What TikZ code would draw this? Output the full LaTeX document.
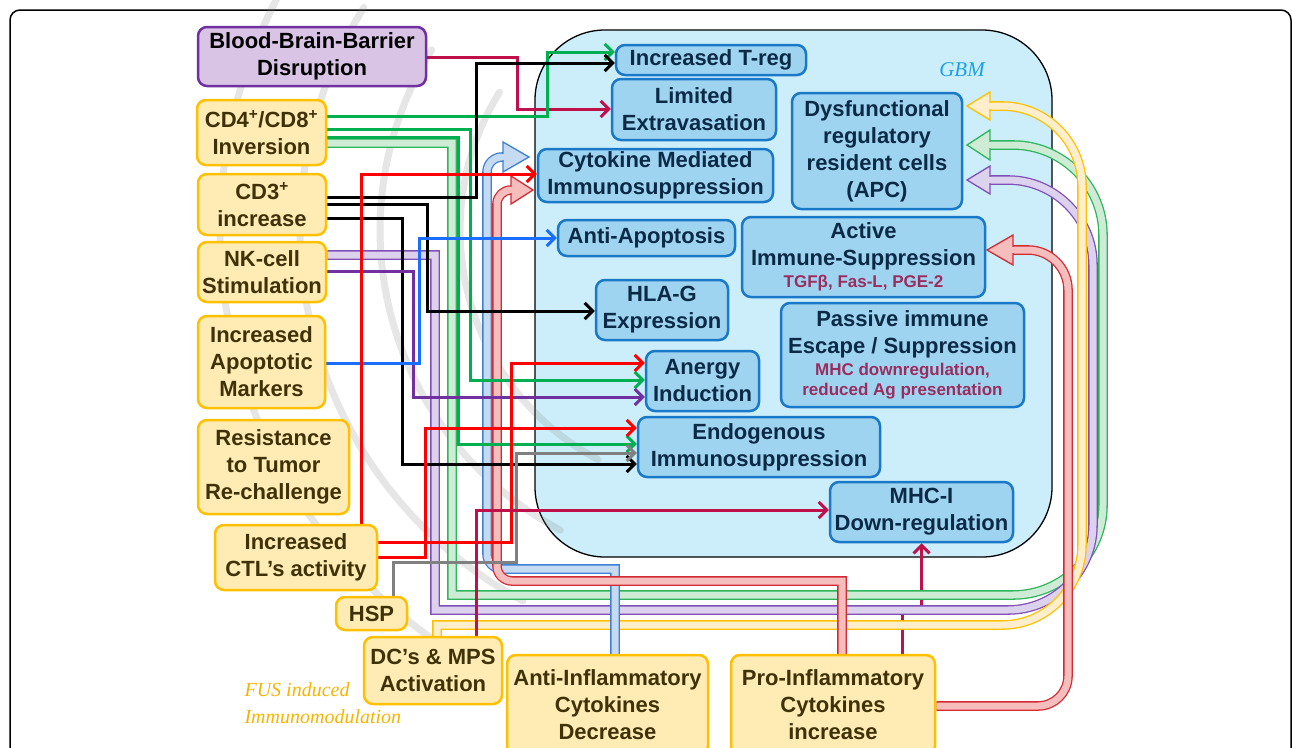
\documentclass[tikz,border=0pt]{standalone}
\usepackage{fontspec}
\setmainfont{Liberation Sans}
\newfontfamily\serifit{Liberation Serif}
\usetikzlibrary{arrows.meta}
\pgfdeclarelayer{bgzero}
\pgfdeclarelayer{conn}
\pgfsetlayers{bgzero,conn,main}
\definecolor{ofill}{HTML}{FFEBB4}
\definecolor{oedge}{HTML}{FFC000}
\definecolor{otext}{HTML}{3F3208}
\definecolor{bfill}{HTML}{9FD4F1}
\definecolor{bedge}{HTML}{1A78C8}
\definecolor{btext}{HTML}{0B2A47}
\definecolor{gbmfill}{HTML}{CCEEFA}
\definecolor{pfill}{HTML}{D9C4E6}
\definecolor{pedge}{HTML}{7030A0}
\definecolor{cgreen}{HTML}{00B050}
\definecolor{cred}{HTML}{FF0000}
\definecolor{ccrim}{HTML}{C0104A}
\definecolor{cgrey}{HTML}{808080}
\definecolor{cblue}{HTML}{1A6EFF}
\definecolor{cpurp}{HTML}{7030A0}
\definecolor{maroontxt}{HTML}{9B2D5E}
\definecolor{gbmtxt}{HTML}{1EA0E6}
\definecolor{fustxt}{HTML}{F5B400}
\definecolor{bbE}{HTML}{3F80D5}\definecolor{bbF}{HTML}{C6DAF2}
\definecolor{rbE}{HTML}{D42A34}\definecolor{rbF}{HTML}{F6BDBD}
\definecolor{gbE}{HTML}{2DB55A}\definecolor{gbF}{HTML}{CDEBD5}
\definecolor{pbE}{HTML}{8050B8}\definecolor{pbF}{HTML}{DDD2EE}
\definecolor{ybE}{HTML}{FFC000}\definecolor{ybF}{HTML}{FFEECC}
\newcommand\smtxt[1]{{\fontsize{17}{20}\selectfont\color{maroontxt}#1}}
\newcommand\myhead[7]{%
  \filldraw[draw=#1, fill=#2, line width=1.3pt, line join=miter] (#3,#4-#6) -- (#5,#4) -- (#3,#4+#6) -- cycle;
  \fill[#2] (#3-1.6,#4-#7) rectangle (#3+1.6,#4+#7);}
\tikzset{
  basebox/.style={rectangle, rounded corners=9pt, line width=2.5pt, align=center, inner sep=0pt,
    font=\bfseries\fontsize{22}{27}\selectfont},
  onode/.style={basebox, draw=oedge, fill=ofill, text=otext},
  bnode/.style={basebox, draw=bedge, fill=bfill, text=btext},
  pnode/.style={basebox, draw=pedge, fill=pfill, text=black},
  thinarrow/.style={line width=3pt, -{Straight Barb[length=8pt,width=16pt]}},
  band/.style 2 args={draw=#1, double=#2, double distance=7pt, line width=1.3pt},
}
\begin{document}
\begin{tikzpicture}[x=1pt,y=-1pt]
\useasboundingbox (0,0) rectangle (1292,747);
\begin{pgfonlayer}{bgzero}
\draw[line width=1.5pt, rounded corners=10pt] (10,10) rectangle (1291,765);
\draw[fill=gbmfill, line width=1.3pt, rounded corners=70pt] (535,30) rectangle (1052,557);
\foreach \r in {260,340,420,500}
  \draw[gray, opacity=0.2, line width=7pt, line cap=round] plot[domain=118:212, samples=40] ({720+\r*cos(\x)},{230+\r*sin(\x)});
\end{pgfonlayer}
\node[font=\serifit\itshape\fontsize{21}{24}\selectfont, text=gbmtxt] (gbm) at (962,70) {GBM};

\node[pnode, minimum width=228pt, minimum height=59pt] (bbb) at (312,56.5) {Blood-Brain-Barrier\\Disruption};
\node[onode, minimum width=129pt, minimum height=65pt] (cd4) at (261.5,132.5) {CD4\textsuperscript{+}/CD8\textsuperscript{+}\\Inversion};
\node[onode, minimum width=128pt, minimum height=61pt] (cd3) at (262,204.5) {CD3\textsuperscript{+}\\increase};
\node[onode, minimum width=128pt, minimum height=60pt] (nk) at (262,272) {NK-cell\\Stimulation};
\node[onode, minimum width=127pt, minimum height=92pt] (apo) at (261.5,362) {Increased\\Apoptotic\\Markers};
\node[onode, minimum width=151pt, minimum height=94pt] (res) at (273.5,467) {Resistance\\to Tumor\\Re-challenge};
\node[onode, minimum width=162pt, minimum height=65pt] (ctl) at (296,557.5) {Increased\\CTL’s activity};
\node[onode, minimum width=71pt, minimum height=33pt] (hsp) at (371.5,613.5) {HSP};
\node[onode, minimum width=138pt, minimum height=67pt] (dc) at (433,670.5) {DC’s \& MPS\\Activation};
\node[onode, minimum width=201pt, minimum height=100pt] (anti) at (607.5,705) {Anti-Inflammatory\\Cytokines\\Decrease};
\node[onode, minimum width=204pt, minimum height=100pt] (pro) at (833,705) {Pro-Inflammatory\\Cytokines\\increase};

\node[bnode, minimum width=190pt, minimum height=30pt] (treg) at (711,60) {Increased T-reg};
\node[bnode, minimum width=164pt, minimum height=61pt] (lim) at (694,109.5) {Limited\\Extravasation};
\node[bnode, minimum width=235pt, minimum height=53pt] (cyt) at (655.5,175.5) {Cytokine Mediated\\Immunosuppression};
\node[bnode, minimum width=170pt, minimum height=116pt] (dys) at (877,151) {Dysfunctional\\regulatory\\resident cells\\(APC)};
\node[bnode, minimum width=177pt, minimum height=36pt] (antiapo) at (646.5,238) {Anti-Apoptosis};
\node[bnode, minimum width=243pt, minimum height=80pt] (act) at (863.5,257) {Active\\Immune-Suppression\\[-5pt]\smtxt{TGFβ, Fas-L, PGE-2}};
\node[bnode, minimum width=132pt, minimum height=60pt] (hla) at (662,310) {HLA-G\\Expression};
\node[bnode, minimum width=243pt, minimum height=104pt] (pas) at (902.5,355) {Passive immune\\Escape / Suppression\\[-5pt]\smtxt{MHC downregulation,}\\[-7pt]\smtxt{reduced Ag presentation}};
\node[bnode, minimum width=113pt, minimum height=60pt] (anergy) at (702.5,381) {Anergy\\Induction};
\node[bnode, minimum width=242pt, minimum height=60pt] (endo) at (759,447) {Endogenous\\Immunosuppression};
\node[bnode, minimum width=183pt, minimum height=60pt] (mhc) at (921.5,512) {MHC-I\\Down-regulation};

\node[font=\serifit\itshape\fontsize{20}{27}\selectfont, text=fustxt, align=left, anchor=west] (fus) at (241,703) {FUS induced\\Immunomodulation};

\begin{pgfonlayer}{conn}
% crimson Pro -> MHC (jog hidden under purple band)
\draw[thinarrow, ccrim] (902,0 |- pro.north) -- (902,610) -| (mhc.south);

% hollow bands
\draw[band={gbE}{gbF}] (cd4.east |- 0,143) -- (452,143) -- (452,595) -- (1013,595) .. controls (1062.5,595) and (1103,554.5) .. (1103,505) -- (1103,235) .. controls (1103,185.5) and (1062.5,145) .. (1013,145) -- (990,145);
\myhead{gbE}{gbF}{990}{145}{967}{15}{3.4}
\draw[band={pbE}{pbF}] (nk.east |- 0,255) -- (435,255) -- (435,610) -- (1008,610) .. controls (1054.75,610) and (1093,571.75) .. (1093,525) -- (1093,265) .. controls (1093,218.25) and (1054.75,180) .. (1008,180) -- (990,180);
\myhead{pbE}{pbF}{990}{180}{967}{14}{3.4}
\draw[band={ybE}{ybF}] (437,0 |- dc.north) -- (437,625) -- (1002,625) .. controls (1046,625) and (1082,589) .. (1082,545) -- (1082,186) .. controls (1082,142) and (1046,106) .. (1002,106) -- (990,106);
\myhead{ybE}{ybF}{990}{106}{967}{14}{3.4}
\draw[band={bbE}{bbF}] (615,0 |- anti.north) -- (615,569) -- (502,569) .. controls (493.75,569) and (487,562.25) .. (487,554) -- (487,172) .. controls (487,163.75) and (493.75,157) .. (502,157) -- (503,157);
\myhead{bbE}{bbF}{503}{157}{529}{15}{3.4}
\draw[band={rbE}{rbF}] (842,0 |- pro.north) -- (842,581) -- (512,581) .. controls (503.75,581) and (497,574.25) .. (497,566) -- (497,204) .. controls (497,196.3) and (503.3,190) .. (511,190);
\myhead{rbE}{rbF}{511}{190}{533}{14}{3.4}
\draw[band={rbE}{rbF}] (pro.east |- 0,706) -- (1038,706) .. controls (1054.5,706) and (1068,692.5) .. (1068,676) -- (1068,290) .. controls (1068,268) and (1050,250) .. (1028,250) -- (1013,250);
\myhead{rbE}{rbF}{1013}{250}{987}{15}{3.4}

% thin connectors
\draw[thinarrow, ccrim] (bbb.east |- 0,57) -| (517,109) -- (lim.west |- 0,109);
\draw[thinarrow, cgreen] (cd4.east |- 0,116) -| (547,52) -- (treg.west |- 0,52);
\draw[thinarrow, cgreen] (cd4.east |- 0,129) -| (470,380) -- (anergy.west |- 0,380);
\draw[thinarrow, cgreen] (cd4.east |- 0,137) -| (458,444) -- (endo.west |- 0,444);
\draw[thinarrow, black] (cd3.east |- 0,197) -| (476,63) -- (treg.west |- 0,63);
\draw[thinarrow, black] (cd3.east |- 0,204) -| (427,311) -- (hla.west |- 0,311);
\draw[thinarrow, black] (cd3.east |- 0,218) -| (402,464) -- (endo.west |- 0,464);
\draw[thinarrow, cpurp] (nk.east |- 0,271) -| (413,397) -- (anergy.west |- 0,397);
\draw[thinarrow, cblue] (apo.east |- 0,363) -| (419,238) -- (antiapo.west |- 0,238);
\draw[thinarrow, cred] (361,0 |- ctl.north) -- (361,174) -- (cyt.west |- 0,174);
\draw[thinarrow, cred] (ctl.east |- 0,542) -| (511,363) -- (anergy.west |- 0,363);
\draw[thinarrow, cred] (ctl.east |- 0,557) -| (425,428) -- (endo.west |- 0,428);
\draw[thinarrow, cgrey] (393,0 |- hsp.north) -- (393,562) -| (516,453) -- (endo.west |- 0,453);
\draw[thinarrow, ccrim] (476,0 |- dc.north) -- (476,510) -- (mhc.west |- 0,510);
\end{pgfonlayer}
\end{tikzpicture}
\end{document}
